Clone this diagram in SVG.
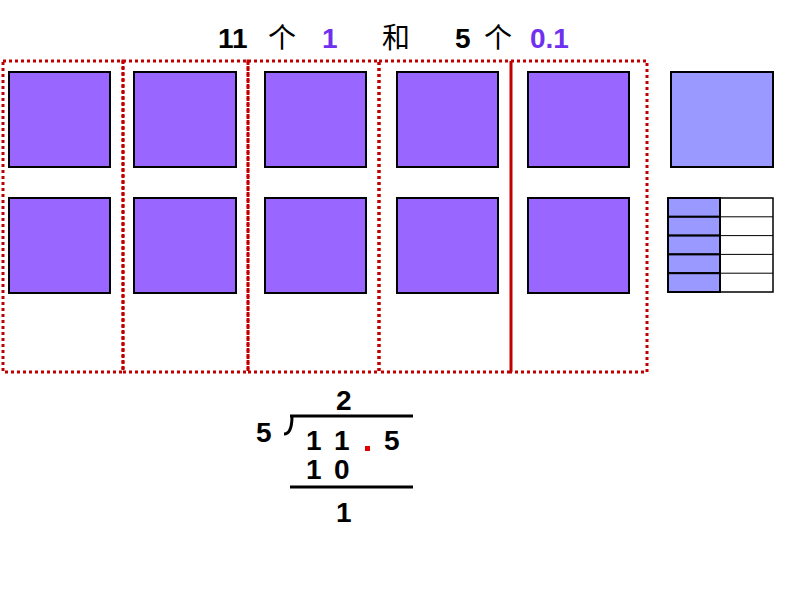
<svg xmlns="http://www.w3.org/2000/svg" width="794" height="596" viewBox="0 0 794 596">
<style>
.t{font-family:"Liberation Sans",Arial,sans-serif;font-weight:bold;font-size:28px;fill:#000}
.c{font-family:"Noto Sans CJK SC",sans-serif;font-size:28px;fill:#000}
.p{fill:#7030f0}
.dot{fill:none;stroke:#c00000;stroke-width:3;stroke-dasharray:3 3}
.sq{fill:#9966ff;stroke:#000;stroke-width:2}
.cell{stroke:#000;stroke-width:2}
</style>
<rect width="794" height="596" fill="#fff"/>
<g id="title">
<text class="t" x="218" y="48">11</text><text class="c" x="268" y="48">个</text>
<text class="t p" x="322" y="48">1</text>
<text class="c" x="382" y="48">和</text>
<text class="t" x="455" y="48">5</text><text class="c" x="484" y="48">个</text>
<text class="t p" x="530" y="48">0.1</text>
</g>
<g id="groups">
<rect class="dot" x="3" y="61" width="120" height="311"/>
<rect class="dot" x="123" y="61" width="125" height="311"/>
<rect class="dot" x="248" y="61" width="131" height="311"/>
<rect class="dot" x="379" y="61" width="132" height="311"/>
<rect class="dot" x="511" y="61" width="136" height="311"/>
</g>
<g id="squares">
<rect class="sq" x="9" y="72" width="101" height="95"/>
<rect class="sq" x="134" y="72" width="102" height="95"/>
<rect class="sq" x="265" y="72" width="101" height="95"/>
<rect class="sq" x="397" y="72" width="101" height="95"/>
<rect class="sq" x="528" y="72" width="101" height="95"/>
<rect class="sq" x="9" y="198" width="101" height="95"/>
<rect class="sq" x="134" y="198" width="102" height="95"/>
<rect class="sq" x="265" y="198" width="101" height="95"/>
<rect class="sq" x="397" y="198" width="101" height="95"/>
<rect class="sq" x="528" y="198" width="101" height="95"/>
<rect x="671" y="72" width="102" height="95" fill="#9999ff" stroke="#000" stroke-width="2"/>
</g>
<g id="tenths">
<rect x="720" y="198" width="53" height="94" fill="#fff" stroke="#000" stroke-width="1.5"/>
<line x1="720" y1="216.8" x2="773" y2="216.8" stroke="#000"/>
<line x1="720" y1="235.6" x2="773" y2="235.6" stroke="#000"/>
<line x1="720" y1="254.4" x2="773" y2="254.4" stroke="#000"/>
<line x1="720" y1="273.2" x2="773" y2="273.2" stroke="#000"/>
<rect class="cell" x="668" y="198" width="52" height="18.8" fill="#9999ff"/>
<rect class="cell" x="668" y="216.8" width="52" height="18.8" fill="#9999ff"/>
<rect class="cell" x="668" y="235.6" width="52" height="18.8" fill="#9999ff"/>
<rect class="cell" x="668" y="254.4" width="52" height="18.8" fill="#9999ff"/>
<rect class="cell" x="668" y="273.2" width="52" height="18.8" fill="#9999ff"/>
</g>
<g id="division">
<text class="t" x="336" y="410">2</text>
<line x1="290" y1="416" x2="413" y2="416" stroke="#000" stroke-width="3"/>
<path d="M292 416 Q292 434 284 434" fill="none" stroke="#000" stroke-width="3"/>
<text class="t" x="256" y="442">5</text>
<text class="t" x="306" y="450">1</text><text class="t" x="334" y="450">1</text>
<rect x="365" y="446" width="5" height="5" fill="#e00000"/>
<text class="t" x="384" y="450">5</text>
<text class="t" x="306" y="479">1</text><text class="t" x="334" y="479">0</text>
<line x1="290" y1="487" x2="413" y2="487" stroke="#000" stroke-width="3"/>
<text class="t" x="336" y="522">1</text>
</g>
</svg>
